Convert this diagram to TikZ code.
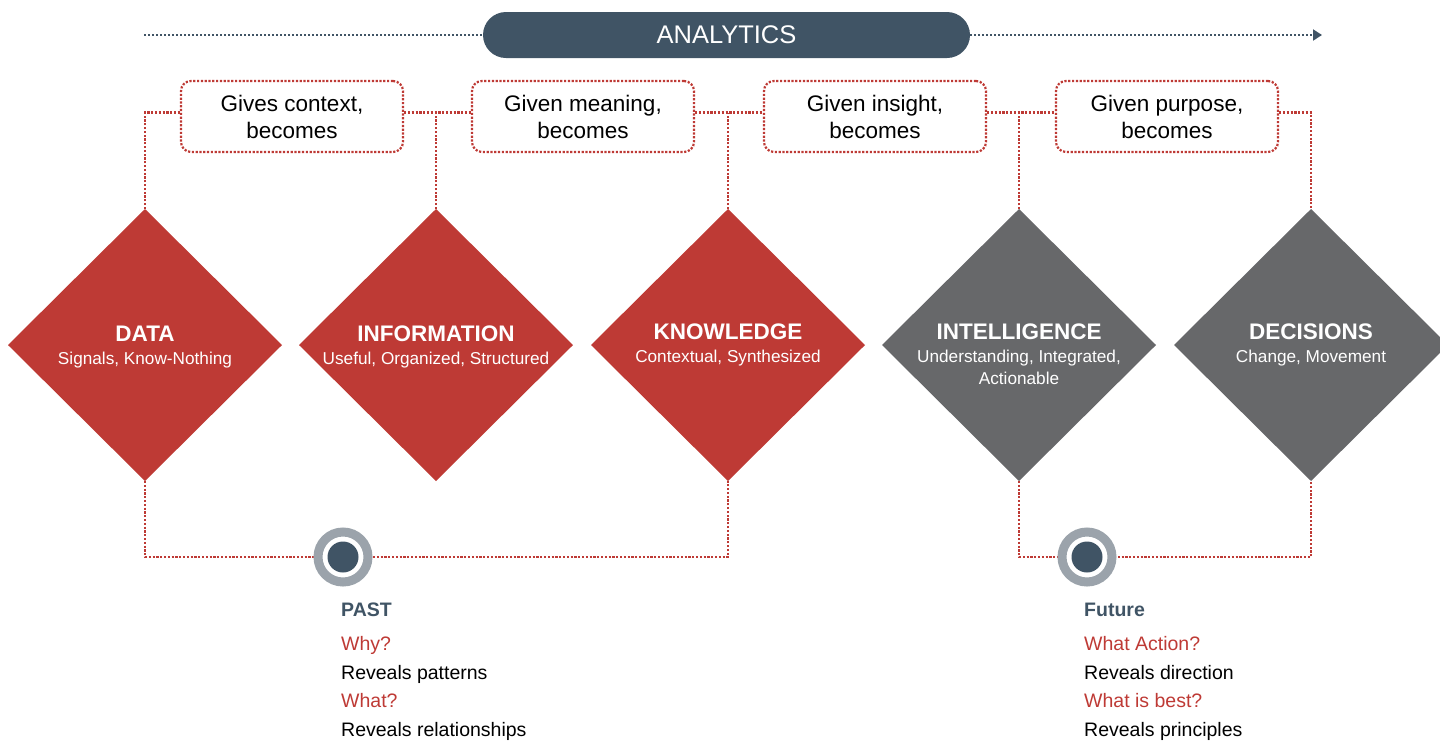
\documentclass[tikz,border=0pt]{standalone}
\usepackage{fontspec}
\setmainfont{Liberation Sans}
\usetikzlibrary{shapes.geometric,arrows.meta}
\definecolor{dred}{RGB}{190,58,53}
\definecolor{dgray}{RGB}{103,104,106}
\definecolor{slate}{RGB}{64,84,101}
\definecolor{ringgray}{RGB}{155,163,171}
\begin{document}
\begin{tikzpicture}[x=1pt,y=-1pt,
 reddot/.style={draw=dred, line width=2.2pt, dash pattern=on 2.2pt off 1.6pt},
 slatedot/.style={draw=slate, line width=2pt, dash pattern=on 2pt off 2pt},
 dia/.style={diamond, minimum width=274pt, minimum height=272pt, inner sep=0pt, outer sep=0pt},
 reddia/.style={dia, fill=dred},
 graydia/.style={dia, fill=dgray},
 ttl/.style={text=white, font=\fontsize{22.5}{27}\selectfont\bfseries, anchor=base, inner sep=0pt},
 sub/.style={text=white, font=\fontsize{17.2}{21}\selectfont, anchor=base, inner sep=0pt},
 lbox/.style={reddot, rounded corners=10pt, minimum width=222pt, minimum height=71pt, align=center, font=\fontsize{22.5}{27}\selectfont, inner sep=0pt},
 ring/.style={circle, draw=ringgray, line width=9pt, fill=white, minimum size=50pt, inner sep=0pt},
 dotc/.style={circle, fill=slate, minimum size=31pt, inner sep=0pt},
 head/.style={text=slate, font=\fontsize{19.5}{23}\selectfont\bfseries, anchor=base west, inner sep=0pt},
 qtxt/.style={text=dred, font=\fontsize{19.5}{23}\selectfont, anchor=base west, inner sep=0pt},
 atxt/.style={text=black, font=\fontsize{19.5}{23}\selectfont, anchor=base west, inner sep=0pt},
]
\useasboundingbox (0,0) rectangle (1440,740);

% top analytics bar
\node[fill=slate, rounded corners=23pt, minimum width=487pt, minimum height=46pt, inner sep=0pt,
      text=white, font=\fontsize{25.5}{30}\selectfont] (pill) at (726.5,35) {ANALYTICS};
\coordinate (tl) at (144,35);
\coordinate (tr) at (1322,35);
\draw[slatedot] (tl) -- (pill.west);
\draw[slatedot, -{Triangle[length=9pt,width=11pt]}] (pill.east) -- (tr);

% diamonds
\node[reddia]  (data)  at (145,345) {};
\node[reddia]  (info)  at (436,345) {};
\node[reddia]  (know)  at (728,345) {};
\node[graydia] (intel) at (1019,345) {};
\node[graydia] (dec)   at (1311,345) {};

\node[ttl] (datat) at (145,341) {DATA};
\node[sub] (datas) at (145,364) {Signals, Know-Nothing};
\node[ttl] (infot) at (436,341) {INFORMATION};
\node[sub] (infos) at (436,364) {Useful, Organized, Structured};
\node[ttl] (knowt) at (728,339) {KNOWLEDGE};
\node[sub] (knows) at (728,362) {Contextual, Synthesized};
\node[ttl] (intelt) at (1019,339) {INTELLIGENCE};
\node[sub] (intels) at (1019,362) {Understanding, Integrated,};
\node[sub] (intels2) at (1019,384) {Actionable};
\node[ttl] (dect) at (1311,339) {DECISIONS};
\node[sub] (decs) at (1311,362) {Change, Movement};

% label boxes
\node[lbox] (b1) at (292,116.5) {Gives context,\\becomes};
\node[lbox] (b2) at (583,116.5) {Given meaning,\\becomes};
\node[lbox] (b3) at (875,116.5) {Given insight,\\becomes};
\node[lbox] (b4) at (1167,116.5) {Given purpose,\\becomes};

% top connectors
\draw[reddot] (data.north) |- ([yshift=4pt]b1.west);
\foreach \a/\b/\d in {b1/b2/info, b2/b3/know, b3/b4/intel} {
  \draw[reddot] ([yshift=4pt]\a.east) coordinate (e) -- ([yshift=4pt]\b.west);
  \draw[reddot] (\d.north) -- (\d.north |- e);
}
\draw[reddot] ([yshift=4pt]b4.east) -| (dec.north);

% bottom connectors
\coordinate (pastc) at (343,557);
\coordinate (futc) at (1087,557);
\draw[reddot] (data.south) |- (pastc) -| (know.south);
\draw[reddot] (intel.south) |- (futc) -| (dec.south);
\node[ring] (pastring) at (pastc) {};
\node[dotc] (pastdot) at (pastc) {};
\node[ring] (futring) at (futc) {};
\node[dotc] (futdot) at (futc) {};

% bottom texts
\node[head] (p1) at (341,616) {PAST};
\node[qtxt] (p2) at (341,650) {Why?};
\node[atxt] (p3) at (341,679) {Reveals patterns};
\node[qtxt] (p4) at (341,707) {What?};
\node[atxt] (p5) at (341,736) {Reveals relationships};

\node[head] (f1) at (1084,616) {Future};
\node[qtxt] (f2) at (1084,650) {What Action?};
\node[atxt] (f3) at (1084,679) {Reveals direction};
\node[qtxt] (f4) at (1084,707) {What is best?};
\node[atxt] (f5) at (1084,736) {Reveals principles};
\end{tikzpicture}
\end{document}
